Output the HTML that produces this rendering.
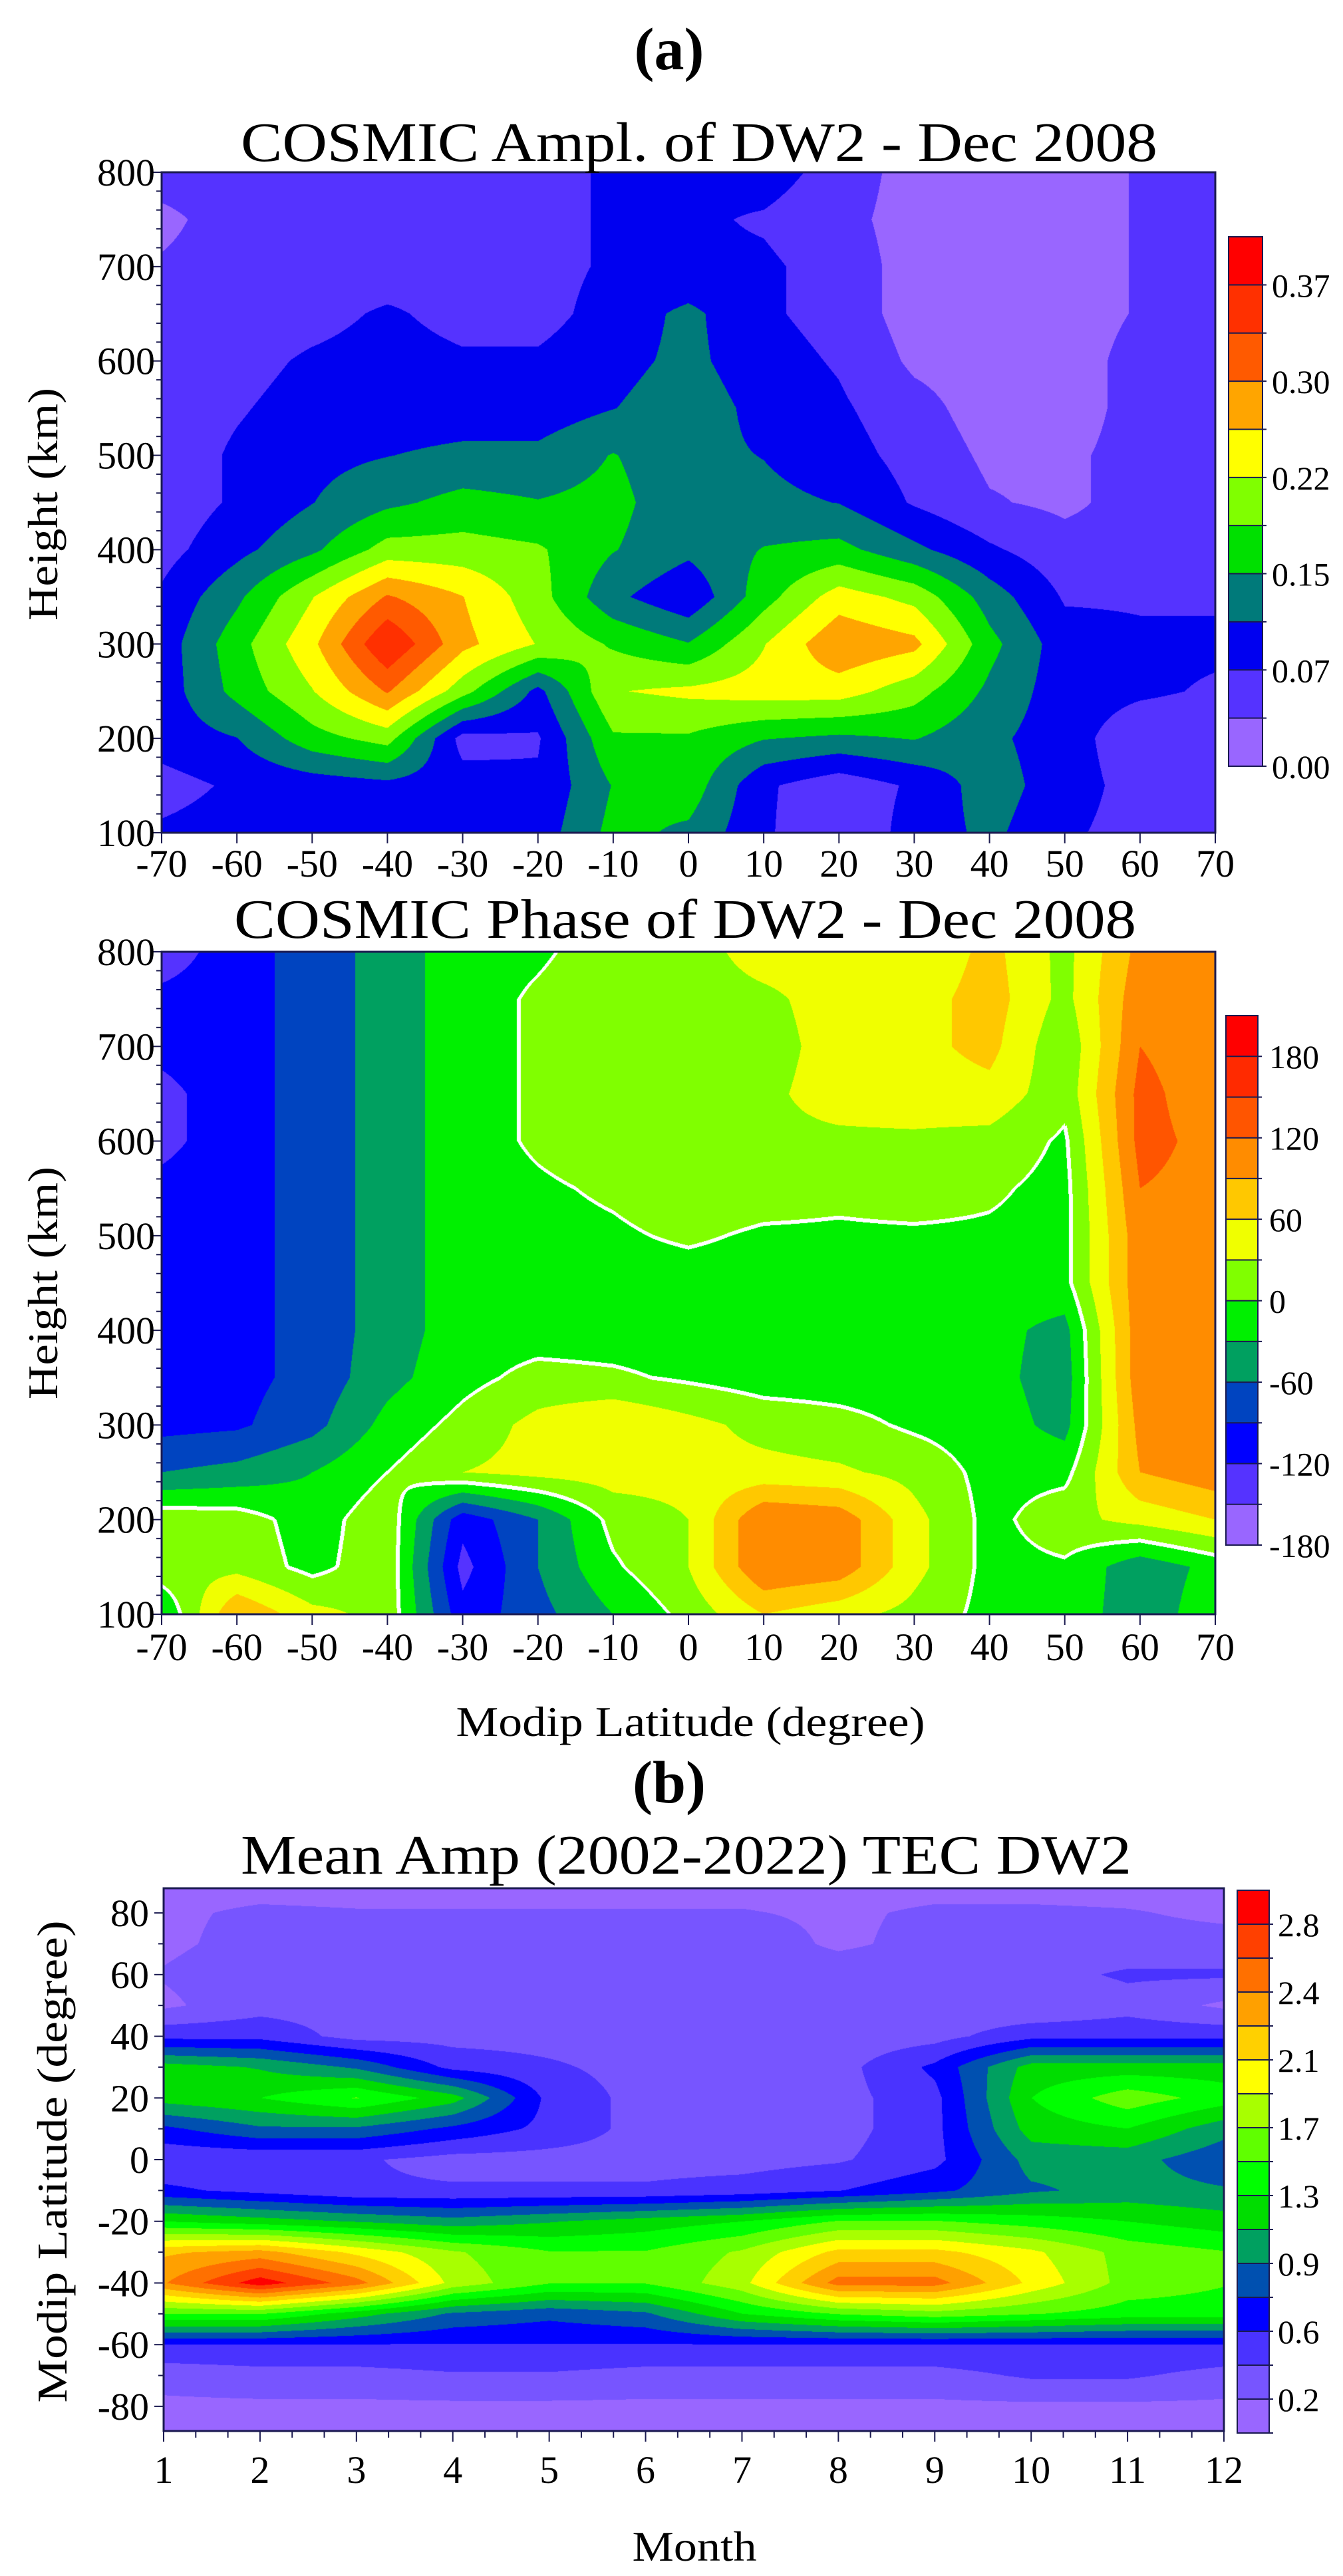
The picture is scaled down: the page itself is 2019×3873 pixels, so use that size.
<!DOCTYPE html>
<html><head><meta charset="utf-8"><style>
html,body{margin:0;padding:0;background:#fff;}
#root{position:relative;width:2019px;height:3873px;overflow:hidden;background:#fff;}
canvas{position:absolute;}
svg{position:absolute;left:0;top:0;}
text{font-family:"Liberation Serif",serif;fill:#000;}
</style></head><body>
<div id="root">
<canvas id="c1"></canvas>
<canvas id="c2"></canvas>
<canvas id="c3"></canvas>
<svg id="s" width="2019" height="3873"></svg>
</div>
<script>
// ---------- Panel 1: amplitude (rows: height 800 -> 100, cols: lat -70..70) ----------
const lat1 = [-70,-60,-50,-40,-30,-20,-10,0,10,20,30,40,50,60,70];
const h1 = [800,750,700,650,600,550,500,450,400,350,300,250,200,150,100];
const amp1 = [
[.05,.05,.05,.05,.05,.06,.08,.08,.09,.06,.02,.02,.02,.04,.05],
[.03,.05,.05,.05,.05,.06,.08,.08,.07,.05,.02,.02,.02,.04,.05],
[.04,.05,.05,.05,.06,.06,.08,.08,.08,.06,.02,.02,.02,.04,.05],
[.04,.05,.06,.08,.06,.06,.09,.12,.08,.06,.02,.02,.02,.04,.06],
[.05,.06,.08,.09,.08,.08,.10,.12,.09,.07,.03,.02,.02,.05,.06],
[.05,.07,.09,.09,.09,.09,.11,.13,.10,.08,.05,.02,.02,.05,.06],
[.05,.08,.10,.11,.12,.12,.15,.12,.11,.09,.06,.03,.03,.05,.06],
[.05,.08,.11,.14,.16,.15,.16,.12,.12,.11,.07,.04,.03,.05,.06],
[.06,.10,.14,.20,.20,.19,.15,.12,.15,.16,.12,.08,.05,.05,.06],
[.08,.14,.22,.30,.26,.20,.12,.08,.17,.24,.21,.13,.07,.07,.07],
[.09,.17,.25,.37,.27,.22,.18,.15,.22,.29,.27,.16,.09,.08,.08],
[.09,.16,.22,.30,.20,.10,.22,.23,.24,.24,.20,.14,.09,.08,.07],
[.09,.11,.17,.20,.06,.07,.18,.18,.15,.14,.15,.12,.09,.05,.05],
[.06,.08,.09,.10,.09,.08,.15,.17,.08,.05,.08,.13,.09,.06,.06],
[.08,.09,.09,.09,.09,.09,.16,.14,.08,.04,.09,.12,.08,.06,.06]];
const cb1Labels = ["0.00","0.07","0.15","0.22","0.30","0.37"];
const cb1Colors = ["#9966ff","#5533ff","#0000f0","#007a7a","#00e000","#80ff00","#ffff00","#ffa500","#ff5a00","#ff3000","#ff0000"];

// ---------- Panel 2: phase ----------
const lat2 = [-70,-60,-50,-40,-30,-20,-10,0,10,20,30,40,50,60,70];
const h2 = [800,750,700,650,600,550,500,450,400,350,300,250,200,150,100];
const phase2 = [
[-140,-100,-80,-45,-15,-5,15,20,40,40,30,70,20,100,100],
[-110,-100,-80,-45,-15,5,20,20,25,40,45,75,20,110,95],
[-110,-100,-80,-45,-15,5,20,20,20,40,50,70,5,120,100],
[-130,-100,-80,-45,-15,5,20,20,25,40,45,50,10,130,100],
[-130,-100,-80,-45,-15,5,20,20,25,25,25,20,-5,130,110],
[-110,-100,-80,-45,-15,-5,5,20,15,8,15,5,-10,120,110],
[-100,-100,-80,-45,-15,-10,-5,5,-5,-5,-5,-5,-10,110,110],
[-100,-100,-80,-45,-15,-15,-15,-15,-15,-15,-15,-15,-10,110,110],
[-100,-100,-80,-45,-15,-15,-15,-15,-15,-15,-15,-20,-40,110,110],
[-100,-100,-80,-40,-10,10,5,-5,-15,-15,-15,-20,-45,110,110],
[-100,-95,-70,-20,10,40,60,40,20,10,-5,-15,-40,100,105],
[-60,-50,-30,0,30,40,45,40,40,35,20,-10,-10,90,110],
[20,15,-15,20,-110,-60,10,30,120,110,40,-10,20,40,60],
[20,20,-10,20,-130,-60,-5,30,120,110,40,-10,-5,-50,-20],
[-30,90,40,20,-110,-70,-30,10,60,40,20,-10,-10,-50,-10]];
const cb2Labels = ["-180","-120","-60","0","60","120","180"];
const cb2Colors = ["#9966ff","#5533ff","#0000ff","#0044c0","#00a060","#00f000","#80ff00","#f0ff00","#ffc800","#ff8c00","#ff5500","#ff2a00","#ff0000"];

// ---------- Panel 3: mean amp (rows: lat 90 -> -90, cols: month 1..12) ----------
const months3 = [1,2,3,4,5,6,7,8,9,10,11,12];
const lat3 = [90,80,70,60,50,40,30,20,10,0,-10,-20,-30,-40,-50,-60,-70,-80,-90];
const amp3 = [
[.1,.1,.1,.1,.1,.1,.1,.1,.1,.1,.1,.1],
[.15,.22,.2,.2,.2,.2,.2,.15,.22,.22,.2,.15],
[.15,.25,.25,.3,.3,.3,.3,.15,.25,.25,.25,.25],
[.2,.3,.3,.35,.35,.3,.3,.3,.3,.3,.4,.4],
[.15,.3,.3,.3,.3,.25,.3,.3,.25,.2,.3,.15],
[.5,.5,.3,.3,.3,.3,.25,.25,.3,.5,.5,.5],
[1.2,1.1,.9,.5,.4,.3,.3,.3,.6,1.2,1.2,1.2],
[1.2,1.3,1.5,1.2,.5,.3,.3,.3,.5,1.3,1.6,1.4],
[.7,.9,.9,.7,.5,.3,.3,.3,.5,1.2,1.3,1.0],
[.4,.4,.4,.3,.3,.3,.3,.35,.5,1.0,1.0,.8],
[.6,.5,.4,.4,.4,.4,.45,.55,.7,.9,1.0,.95],
[1.3,1.2,1.1,1.0,1.1,1.2,1.3,1.5,1.5,1.4,1.3,1.2],
[2.2,2.3,2.0,1.7,1.5,1.5,1.7,2.1,2.1,1.9,1.6,1.5],
[2.4,2.9,2.5,1.8,1.5,1.5,1.8,2.5,2.5,2.0,1.6,1.5],
[1.5,1.5,1.2,.9,.8,.9,1.3,1.5,1.6,1.5,1.4,1.4],
[.55,.55,.55,.55,.55,.55,.55,.55,.55,.55,.55,.55],
[.25,.3,.3,.35,.35,.3,.3,.3,.3,.4,.4,.3],
[.15,.15,.15,.15,.15,.15,.15,.15,.15,.15,.15,.15],
[.1,.1,.1,.1,.1,.1,.1,.1,.1,.1,.1,.1]];
const cb3Labels = ["0.2","0.6","0.9","1.3","1.7","2.1","2.4","2.8"];
const cb3Colors = ["#9966ff","#7755ff","#4a33ff","#0000ff","#0050b0","#00a060","#00dd00","#00ff00","#60ff00","#a8ff00","#ffff00","#ffd000","#ffa000","#ff7000","#ff4000","#ff0000"];

const SVGNS="http://www.w3.org/2000/svg";
const svg=document.getElementById('s');
function el(tag,attrs,parent){const e=document.createElementNS(SVGNS,tag);for(const k in attrs)e.setAttribute(k,attrs[k]);(parent||svg).appendChild(e);return e;}
function txt(s,attrs){const e=el('text',attrs);e.textContent=s;return e;}
function hex(c){return [parseInt(c.substr(1,2),16),parseInt(c.substr(3,2),16),parseInt(c.substr(5,2),16)];}

function interp(grid,xs,ys,x,y){
  let i=0;const xi=xs.length-1;
  const xasc=xs[1]>xs[0];
  for(i=0;i<xi-1;i++){ if(xasc? x<=xs[i+1] : x>=xs[i+1]) break; }
  let j=0;const yj=ys.length-1;const yasc=ys[1]>ys[0];
  for(j=0;j<yj-1;j++){ if(yasc? y<=ys[j+1] : y>=ys[j+1]) break; }
  let tx=(x-xs[i])/(xs[i+1]-xs[i]); let ty=(y-ys[j])/(ys[j+1]-ys[j]);
  tx=Math.max(0,Math.min(1,tx)); ty=Math.max(0,Math.min(1,ty));
  const a=grid[j][i],b=grid[j][i+1],c=grid[j+1][i],d=grid[j+1][i+1];
  return (a*(1-tx)+b*tx)*(1-ty)+(c*(1-tx)+d*tx)*ty;
}

function drawMap(id,P,grid,xs,ys,xmin,xmax,ymin,ymax,vmin,step,colors,zeroLine){
  const cv=document.getElementById(id);cv.width=P.w;cv.height=P.h;
  cv.style.left=P.x+'px';cv.style.top=P.y+'px';
  const ctx=cv.getContext('2d');const im=ctx.createImageData(P.w,P.h);
  const rgb=colors.map(hex);
  const vals=new Float32Array(P.w*P.h);
  for(let py=0;py<P.h;py++){
    const yv=ymax-(py+0.5)/P.h*(ymax-ymin);
    for(let px=0;px<P.w;px++){
      const xv=xmin+(px+0.5)/P.w*(xmax-xmin);
      vals[py*P.w+px]=interp(grid,xs,ys,xv,yv);
    }
  }
  for(let k=0;k<vals.length;k++){
    let idx=Math.floor((vals[k]-vmin)/step);idx=Math.max(0,Math.min(colors.length-1,idx));
    let c=rgb[idx];
    if(zeroLine){
      const px=k%P.w,py=(k-px)/P.w,s=vals[k]>=0,r=3;
      const nb=[[r,0],[-r,0],[0,r],[0,-r]];
      for(const [dx,dy] of nb){const qx=px+dx,qy=py+dy;
        if(qx>=0&&qx<P.w&&qy>=0&&qy<P.h&&((vals[qy*P.w+qx]>=0)!==s)){c=[255,255,255];break;}}
    }
    im.data[k*4]=c[0];im.data[k*4+1]=c[1];im.data[k*4+2]=c[2];im.data[k*4+3]=255;
  }
  ctx.putImageData(im,0,0);
}

function frame(P,name){const r=el('rect',{x:P.x,y:P.y,width:P.w,height:P.h,fill:'none',stroke:'#1a1a50','stroke-width':3});
}

function colorbar(B,colors,labels,labelIdx,lx,name){
  const g=el('g',{});
  const n=colors.length,sh=B.h/n;
  colors.forEach((c,i)=>{el('rect',{x:B.x,y:B.y+B.h-(i+1)*sh,width:B.w,height:sh+0.5,fill:c},g);
    el('line',{x1:B.x,x2:B.x+B.w+6,y1:B.y+B.h-i*sh,y2:B.y+B.h-i*sh,stroke:'#1a1a50','stroke-width':2},g);});
  el('rect',{x:B.x,y:B.y,width:B.w,height:B.h,fill:'none',stroke:'#1a1a50','stroke-width':2},g);
  labels.forEach((l,i)=>{const yy=B.y+B.h-labelIdx[i]*sh;const t=el('text',{x:lx,y:yy+18,'font-size':50},g);t.textContent=l;});
}

const P1={x:243,y:259,w:1584,h:993};
const P2={x:243,y:1431,w:1584,h:996};
const P3={x:246,y:2839,w:1594,h:816};

drawMap('c1',P1,amp1,lat1,h1,-70,70,100,800,0,0.037,cb1Colors,false);
drawMap('c2',P2,phase2,lat2,h2,-70,70,100,800,-180,30,cb2Colors,true);
drawMap('c3',P3,amp3,months3,lat3,1,12,-88,88,0,0.186,cb3Colors,false);

frame(P1,'amplitude-plot-frame');frame(P2,'phase-plot-frame');frame(P3,'mean-amp-plot-frame');

function xAxis(P,min,max,major,minorStep,lblY,name){
  const g=el('g',{});
  for(let v=min;v<=max+1e-9;v+=minorStep){const x=P.x+(v-min)/(max-min)*P.w;
    const isMaj=Math.abs((v-min)/major-Math.round((v-min)/major))<1e-6;
    el('line',{x1:x,x2:x,y1:P.y+P.h,y2:P.y+P.h+(isMaj?16:10),stroke:'#1a1a50','stroke-width':2},g);
    if(isMaj){const t=el('text',{x:x,y:lblY,'font-size':58,'text-anchor':'middle'},g);t.textContent=String(Math.round(v));}}
}
function yAxis(P,min,max,major,minorStep,lblX,name){
  const g=el('g',{});
  for(let v=min;v<=max+1e-9;v+=minorStep){const y=P.y+P.h-(v-min)/(max-min)*P.h;
    const isMaj=Math.abs(v/major-Math.round(v/major))<1e-6;
    el('line',{x1:P.x,x2:P.x-(isMaj?14:8),y1:y,y2:y,stroke:'#1a1a50','stroke-width':2},g);
    if(isMaj){const t=el('text',{x:lblX,y:y+20,'font-size':58,'text-anchor':'end'},g);t.textContent=String(Math.round(v));}}
}
xAxis(P1,-70,70,10,10,1318,'amplitude-x-axis');
yAxis(P1,100,800,100,20,233,'amplitude-y-axis');
xAxis(P2,-70,70,10,10,2496,'phase-x-axis');
yAxis(P2,100,800,100,20,233,'phase-y-axis');
xAxis(P3,1,12,1,1/3,3733,'month-x-axis');
(function(){const g=el('g',{});
  for(let v=-80;v<=80;v+=10){const y=P3.y+P3.h-(v+88)/176*P3.h;const maj=v%20===0;
    el('line',{x1:P3.x,x2:P3.x-(maj?14:8),y1:y,y2:y,stroke:'#1a1a50','stroke-width':2},g);
    if(maj){const t=el('text',{x:224,y:y+20,'font-size':58,'text-anchor':'end'},g);t.textContent=String(v);}}})();

colorbar({x:1847,y:356,w:51,h:796},cb1Colors,cb1Labels,[0,2,4,6,8,10],1912,'amplitude-colorbar');
colorbar({x:1843,y:1527,w:48,h:796},cb2Colors,cb2Labels,[0,2,4,6,8,10,12],1908,'phase-colorbar');
colorbar({x:1860,y:2842,w:48,h:816},cb3Colors,cb3Labels,[1,3,5,7,9,11,13,15],1921,'mean-amp-colorbar');

function label(s,attrs,name){const t=txt(s,attrs);return t;}
label('(a)',{x:1006,y:104,'font-size':90,'font-weight':'bold','text-anchor':'middle'},'panel-a-label');
label('(b)',{x:1006,y:2710,'font-size':90,'font-weight':'bold','text-anchor':'middle'},'panel-b-label');
label('COSMIC Ampl. of DW2 - Dec 2008',{x:362,y:242,'font-size':84,textLength:1378,lengthAdjust:'spacingAndGlyphs'},'amplitude-title');
label('COSMIC Phase of DW2 - Dec 2008',{x:352,y:1410,'font-size':84,textLength:1356,lengthAdjust:'spacingAndGlyphs'},'phase-title');
label('Mean Amp (2002-2022) TEC DW2',{x:362,y:2817,'font-size':84,textLength:1339,lengthAdjust:'spacingAndGlyphs'},'mean-amp-title');
label('Height (km)',{x:0,y:0,'font-size':64,'text-anchor':'middle',transform:'translate(86,758) rotate(-90)',textLength:350,lengthAdjust:'spacingAndGlyphs'},'amplitude-y-title');
label('Height (km)',{x:0,y:0,'font-size':64,'text-anchor':'middle',transform:'translate(86,1929) rotate(-90)',textLength:350,lengthAdjust:'spacingAndGlyphs'},'phase-y-title');
label('Modip Latitude (degree)',{x:0,y:0,'font-size':64,'text-anchor':'middle',transform:'translate(100,3250) rotate(-90)',textLength:725,lengthAdjust:'spacingAndGlyphs'},'latitude-y-title');
label('Modip Latitude (degree)',{x:1038,y:2610,'font-size':64,'text-anchor':'middle',textLength:705,lengthAdjust:'spacingAndGlyphs'},'modip-x-title');
label('Month',{x:1044,y:3850,'font-size':64,'text-anchor':'middle',textLength:187,lengthAdjust:'spacingAndGlyphs'},'month-x-title');
</script>
</body></html>
